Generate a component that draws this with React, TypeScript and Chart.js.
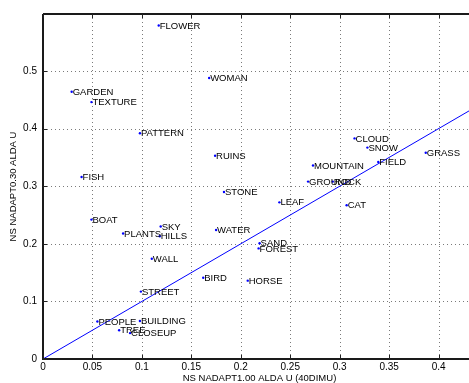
import { useEffect, useRef } from "react";
import { Chart, registerables } from "chart.js";

Chart.register(...registerables);

const names = [
  "FLOWER", "WOMAN", "GARDEN", "TEXTURE", "PATTERN", "RUINS", "FISH", "STONE",
  "CLOUD", "SNOW", "GRASS", "FIELD", "MOUNTAIN", "GROUND", "ROCK", "LEAF",
  "CAT", "BOAT", "SKY", "HILLS", "PLANTS", "WATER", "SAND", "FOREST",
  "WALL", "BIRD", "HORSE", "STREET", "PEOPLE", "BUILDING", "TREE", "CLOSEUP",
];
const xValues = [
  0.117, 0.168, 0.029, 0.049, 0.098, 0.174, 0.039, 0.183,
  0.315, 0.328, 0.387, 0.339, 0.273, 0.268, 0.293, 0.239,
  0.307, 0.049, 0.119, 0.118, 0.081, 0.175, 0.219, 0.218,
  0.110, 0.162, 0.207, 0.099, 0.055, 0.098, 0.077, 0.088,
];
const yValues = [
  0.579, 0.488, 0.464, 0.446, 0.392, 0.353, 0.316, 0.290,
  0.383, 0.367, 0.358, 0.342, 0.336, 0.308, 0.308, 0.272,
  0.267, 0.242, 0.230, 0.213, 0.218, 0.224, 0.201, 0.192,
  0.174, 0.141, 0.136, 0.117, 0.065, 0.066, 0.050, 0.045,
];
const diagX = [0, 0.44];
const diagY = [0, 0.44];
const xTicks = [0, 0.05, 0.1, 0.15, 0.2, 0.25, 0.3, 0.35, 0.4];
const xTickLabels = ["0", "0.05", "0.1", "0.15", "0.2", "0.25", "0.3", "0.35", "0.4"];
const yTicks = [0, 0.1, 0.2, 0.3, 0.4, 0.5];
const yTickLabels = ["0", "0.1", "0.2", "0.3", "0.4", "0.5"];
const xTitle = "NS NADAPT1.00 ALDA U (40DIMU)";
const yTitle = "NS NADAPT0.30 ALDA U";

const FONT = '"Liberation Sans", Arial, Helvetica, sans-serif';

const decorPlugin = {
  id: "decor",
  beforeDatasetsDraw(chart: any) {
    const { ctx, chartArea: a, scales } = chart;
    const xs = scales.x;
    const ys = scales.y;
    ctx.save();
    ctx.strokeStyle = "#7a7a7a";
    ctx.lineWidth = 1;
    ctx.setLineDash([1, 3]);
    xTicks.forEach((v) => {
      if (v === 0) return;
      const px = Math.round(xs.getPixelForValue(v)) + 0.5;
      ctx.beginPath();
      ctx.moveTo(px, a.top);
      ctx.lineTo(px, a.bottom);
      ctx.stroke();
    });
    yTicks.forEach((v) => {
      if (v === 0) return;
      const py = Math.round(ys.getPixelForValue(v)) + 0.5;
      ctx.beginPath();
      ctx.moveTo(a.left, py);
      ctx.lineTo(a.right, py);
      ctx.stroke();
    });
    ctx.restore();
  },
  afterDatasetsDraw(chart: any) {
    const { ctx, chartArea: a, scales } = chart;
    const xs = scales.x;
    const ys = scales.y;
    ctx.save();
    // point labels
    ctx.fillStyle = "#000";
    ctx.font = `9.5px ${FONT}`;
    ctx.textAlign = "left";
    ctx.textBaseline = "middle";
    names.forEach((n, i) => {
      const px = xs.getPixelForValue(xValues[i]);
      const py = ys.getPixelForValue(yValues[i]);
      ctx.fillText(n, px + 1, py + 0.5);
    });
    // frame
    ctx.strokeStyle = "#1a1a1a";
    ctx.lineWidth = 2;
    ctx.beginPath();
    ctx.moveTo(a.left, a.top);
    ctx.lineTo(a.right, a.top);
    ctx.moveTo(a.left, a.top);
    ctx.lineTo(a.left, a.bottom);
    ctx.lineTo(a.right, a.bottom);
    ctx.stroke();
    // inward ticks
    ctx.lineWidth = 1;
    ctx.strokeStyle = "#222";
    ctx.beginPath();
    xTicks.forEach((v) => {
      const px = Math.round(xs.getPixelForValue(v)) + 0.5;
      ctx.moveTo(px, a.bottom);
      ctx.lineTo(px, a.bottom - 4);
      ctx.moveTo(px, a.top);
      ctx.lineTo(px, a.top + 4);
    });
    yTicks.forEach((v) => {
      const py = Math.round(ys.getPixelForValue(v)) + 0.5;
      ctx.moveTo(a.left, py);
      ctx.lineTo(a.left + 4, py);
    });
    ctx.stroke();
    // tick labels
    ctx.fillStyle = "#000";
    ctx.font = `10px ${FONT}`;
    ctx.textBaseline = "middle";
    ctx.textAlign = "center";
    xTicks.forEach((v, i) => {
      ctx.fillText(xTickLabels[i], xs.getPixelForValue(v), a.bottom + 8);
    });
    ctx.textAlign = "right";
    yTicks.forEach((v, i) => {
      ctx.fillText(yTickLabels[i], a.left - 6, ys.getPixelForValue(v));
    });
    // titles
    ctx.font = `9.5px ${FONT}`;
    ctx.textAlign = "center";
    ctx.fillText(xTitle, (a.left + a.right) / 2, a.bottom + 19);
    ctx.translate(13.5, (a.top + a.bottom) / 2);
    ctx.rotate(-Math.PI / 2);
    ctx.fillText(yTitle, 0, 0);
    ctx.restore();
  },
};

export default function App() {
  const ref = useRef<HTMLCanvasElement | null>(null);
  useEffect(() => {
    if (!ref.current) return;
    const chart = new Chart(ref.current, {
      type: "scatter",
      data: {
        datasets: [
          {
            data: xValues.map((x, i) => ({ x, y: yValues[i] })),
            backgroundColor: "#0000ff",
            borderWidth: 0,
            pointRadius: 1.2,
          },
          {
            data: diagX.map((x, i) => ({ x, y: diagY[i] })),
            showLine: true,
            borderColor: "#0000ff",
            borderWidth: 1,
            pointRadius: 0,
          },
        ],
      },
      options: {
        responsive: false,
        maintainAspectRatio: false,
        animation: false,
        layout: { padding: { top: 14, right: 1, left: 0, bottom: 0 } },
        plugins: { legend: { display: false }, tooltip: { enabled: false } },
        scales: {
          x: {
            type: "linear",
            min: 0,
            max: 0.4378,
            grid: { display: false },
            border: { display: false },
            ticks: { display: false },
            afterBuildTicks: (s: any) => {
              s.ticks = xTicks.map((v) => ({ value: v }));
            },
            afterFit: (s: any) => {
              s.height = 24;
            },
          },
          y: {
            type: "linear",
            min: 0,
            max: 0.599,
            grid: { display: false },
            border: { display: false },
            ticks: { display: false },
            afterBuildTicks: (s: any) => {
              s.ticks = yTicks.map((v) => ({ value: v }));
            },
            afterFit: (s: any) => {
              s.width = 43;
            },
          },
        },
      },
      plugins: [decorPlugin],
    });
    return () => chart.destroy();
  }, []);
  return (
    <div
      style={{
        position: "fixed",
        left: 0,
        top: 0,
        width: 469,
        height: 383,
        overflow: "hidden",
        background: "#fff",
      }}
    >
      <canvas ref={ref} width={480} height={383} style={{ display: "block" }} />
    </div>
  );
}
